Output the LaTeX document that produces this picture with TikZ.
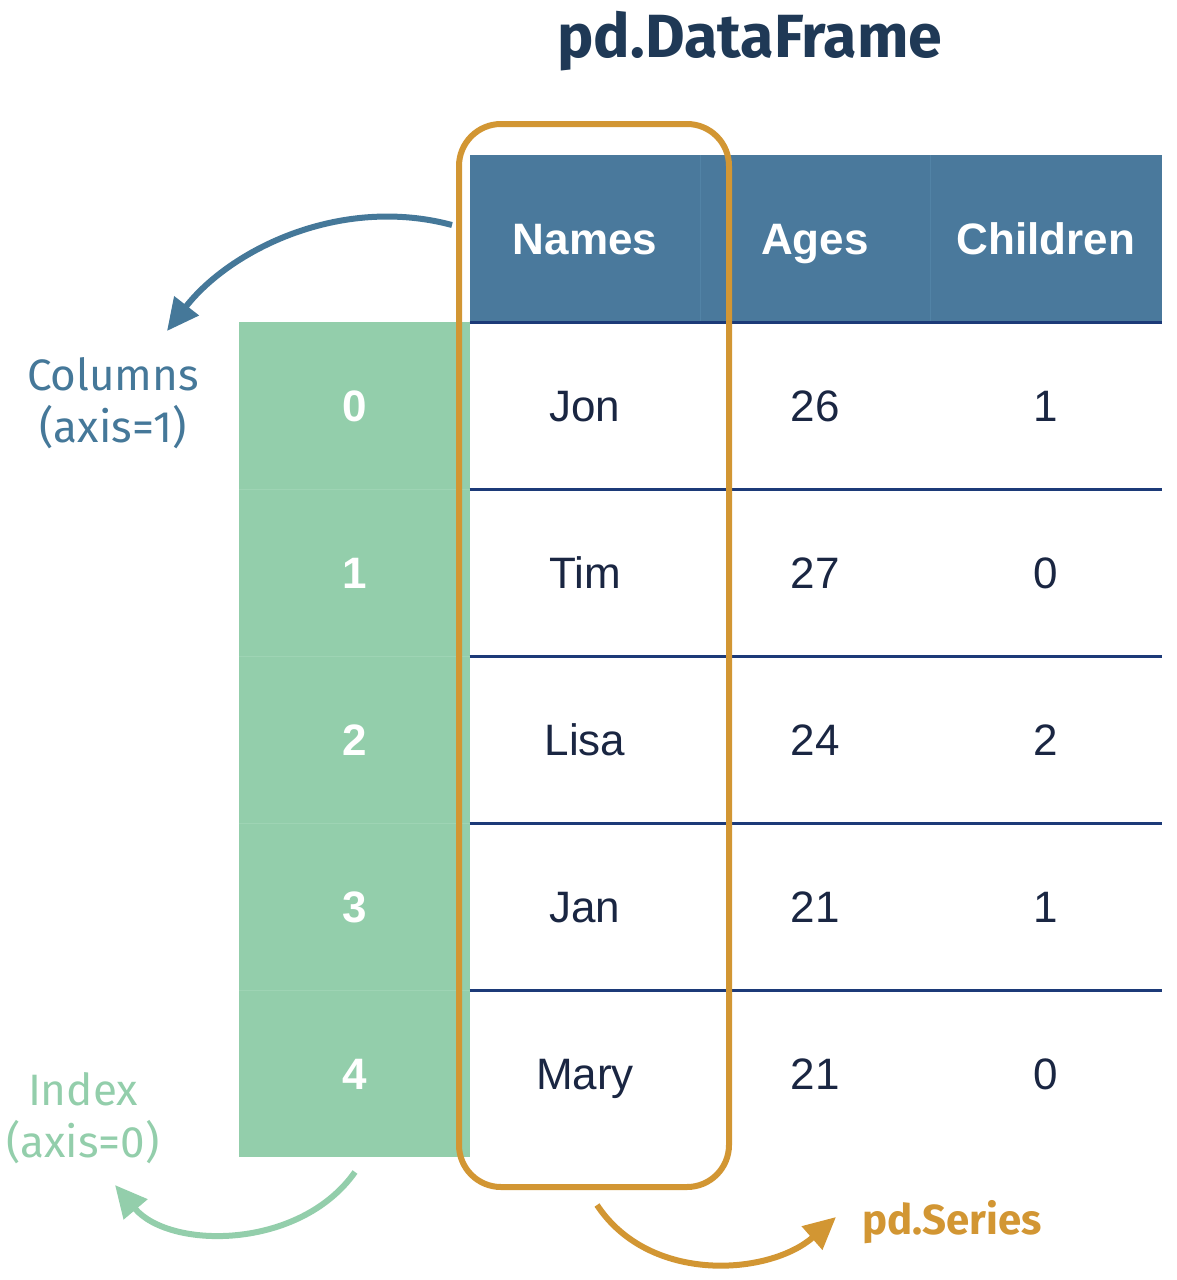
\documentclass[tikz,border=0pt]{standalone}
\usepackage{fontspec}
\setmainfont{Liberation Sans}
\newfontfamily\fira{Fira Sans}
\usetikzlibrary{arrows.meta}
\definecolor{hdrblue}{HTML}{4A799C}
\definecolor{hdrsep}{HTML}{5283A6}
\definecolor{navy}{HTML}{1C3A78}
\definecolor{txtnavy}{HTML}{1A2642}
\definecolor{idxgreen}{HTML}{93CEAB}
\definecolor{idxsep}{HTML}{9ED4B4}
\definecolor{serorange}{HTML}{D29633}
\definecolor{titlenavy}{HTML}{1F3956}
\definecolor{arrblue}{HTML}{457899}
\begin{document}
\begin{tikzpicture}[x=1pt,y=-1pt,
  base/.style={minimum width=231pt, minimum height=167pt, inner sep=0pt, outer sep=0pt, text height=32pt, text depth=0pt},
  hdr/.style={base, fill=hdrblue, text=white, font=\fontsize{44}{52}\selectfont\bfseries},
  cell/.style={base, text=txtnavy, font=\fontsize{44}{52}\selectfont},
  idx/.style={base, fill=idxgreen, text=white, font=\fontsize{44}{52}\selectfont\bfseries},
  rowline/.style={draw=navy, line width=3pt},
  label/.style={anchor=base, inner sep=0pt, font=\fira\fontsize{44}{52}\selectfont},
  arr/.style={line width=6pt, -{Triangle[length=32pt,width=30pt]}}
]
\useasboundingbox (0,0) rectangle (1176,1280);

% title
\node[anchor=base, inner sep=0pt, text=titlenavy, font=\fira\bfseries\fontsize{61}{70}\selectfont] (title) at (750,57) {pd.DataFrame};

% index column
\node[idx] (i0) at (354.5,405.5) {0};
\node[idx] (i1) at (354.5,572.5) {1};
\node[idx] (i2) at (354.5,739.5) {2};
\node[idx] (i3) at (354.5,906.5) {3};
\node[idx] (i4) at (354.5,1073.5) {4};
\foreach \a/\b in {i0/i1,i1/i2,i2/i3,i3/i4}
  \draw[idxsep, line width=1pt] (\a.south west) -- (\a.south east);

% header
\node[hdr] (h1) at (585,238.5) {Names};
\node[hdr] (h2) at (815,238.5) {Ages};
\node[hdr, minimum width=232pt] (h3) at (1046,238.5) {Children};
\draw[hdrsep, line width=1pt] (h1.north east) -- (h1.south east);
\draw[hdrsep, line width=1pt] (h2.north east) -- (h2.south east);

% cells
\foreach \r/\y/\n/\ag/\c in {0/405.5/Jon/26/1, 1/572.5/Tim/27/0, 2/739.5/Lisa/24/2, 3/906.5/Jan/21/1, 4/1073.5/Mary/21/0}{
  \node[cell] (n\r) at (585,\y) {\n};
  \node[cell] (a\r) at (815,\y) {\ag};
  \node[cell, minimum width=232pt] (c\r) at (1046,\y) {\c};
}
\draw[rowline] (h1.south west) -- (h3.south east);
\foreach \r in {0,1,2,3}
  \draw[rowline] (n\r.south west) -- (c\r.south east);

% series box
\node[draw=serorange, line width=6pt, rounded corners=42pt, minimum width=270pt, minimum height=1063pt, inner sep=0pt] (series) at (594,655.5) {};

% labels
\node[label, text=arrblue] (colA) at (113,390) {Columns};
\node[label, text=arrblue] (colB) at (113,442) {(axis=1)};
\node[label, text=idxgreen] (idxA) at (83,1105) {Index};
\node[label, text=idxgreen] (idxB) at (83,1157) {(axis=0)};
\node[label, text=serorange, font=\fira\bfseries\fontsize{42}{50}\selectfont] (serl) at (952,1234) {pd.Series};

% arrows
\coordinate (cs) at (452,225);
\coordinate (ce) at (167,331);
\draw[arr, draw=arrblue] (cs) .. controls (340,195) and (230,250) .. (ce);
\coordinate (is) at (355,1172);
\coordinate (ie) at (115,1185);
\draw[arr, draw=idxgreen] (is) .. controls (300,1250) and (170,1250) .. (ie);
\coordinate (ss) at (597,1205);
\coordinate (se) at (836,1217);
\draw[arr, draw=serorange] (ss) .. controls (650,1285) and (770,1275) .. (se);
\end{tikzpicture}
\end{document}
